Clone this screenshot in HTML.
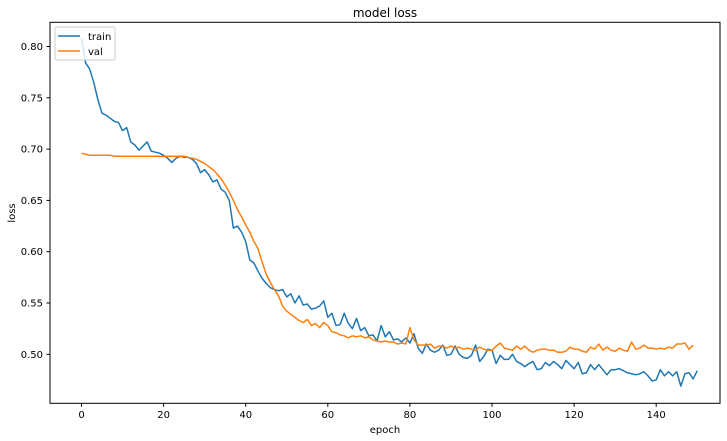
<!DOCTYPE html>
<html><head><meta charset="utf-8"><style>
body{margin:0;background:#fff;}
svg{display:block;font-family:"DejaVu Sans","Liberation Sans",sans-serif;}
</style></head><body>
<svg id="chart" width="727" height="441">
<text x="385" y="17" font-size="12" text-anchor="middle" fill="#000">model loss</text>
<text x="385" y="433" font-size="10" text-anchor="middle" fill="#000">epoch</text>
<text x="15" y="213" font-size="10" text-anchor="middle" fill="#000" transform="rotate(-90 15 213)">loss</text>
<g id="ticks"></g>
<g id="series"></g>
<rect x="50" y="22.3" width="670" height="381" fill="none" stroke="#000" stroke-width="1"/>
<g>
<rect x="55" y="27" width="60" height="33" rx="2" fill="#fff" fill-opacity="0.8" stroke="#ccc"/>
<line x1="58" y1="36" x2="80" y2="36" stroke="#1f77b4" stroke-width="1.5"/>
<text x="88" y="40" font-size="10">train</text>
<line x1="58" y1="51" x2="80" y2="51" stroke="#ff7f0e" stroke-width="1.5"/>
<text x="88" y="55" font-size="10">val</text>
</g>
</svg>
<script>
const trainLoss=[0.808,0.784,0.778,0.765,0.748,0.735,0.733,0.730,0.727,0.726,0.718,0.721,0.707,0.704,0.699,0.703,0.707,0.698,0.697,0.696,0.694,0.691,0.687,0.691,0.693,0.692,0.692,0.690,0.686,0.677,0.680,0.675,0.668,0.670,0.661,0.658,0.650,0.623,0.625,0.619,0.610,0.592,0.589,0.581,0.574,0.569,0.565,0.563,0.562,0.563,0.556,0.559,0.550,0.557,0.548,0.549,0.544,0.545,0.547,0.552,0.536,0.540,0.528,0.529,0.540,0.530,0.525,0.535,0.523,0.526,0.518,0.519,0.513,0.528,0.517,0.522,0.514,0.515,0.512,0.516,0.511,0.520,0.506,0.501,0.510,0.504,0.502,0.504,0.509,0.499,0.500,0.508,0.500,0.497,0.496,0.499,0.509,0.493,0.498,0.505,0.504,0.491,0.499,0.495,0.495,0.500,0.493,0.491,0.488,0.491,0.493,0.485,0.486,0.492,0.489,0.493,0.490,0.486,0.494,0.490,0.486,0.492,0.481,0.482,0.490,0.485,0.490,0.485,0.480,0.485,0.485,0.486,0.484,0.482,0.481,0.480,0.481,0.483,0.479,0.474,0.475,0.485,0.479,0.483,0.479,0.483,0.469,0.481,0.482,0.476,0.484];
const valLoss=[0.696,0.695,0.694,0.694,0.694,0.694,0.694,0.694,0.693,0.693,0.693,0.693,0.693,0.693,0.693,0.693,0.693,0.693,0.693,0.693,0.693,0.693,0.693,0.693,0.693,0.693,0.692,0.691,0.690,0.688,0.686,0.683,0.680,0.676,0.671,0.665,0.658,0.650,0.641,0.634,0.626,0.619,0.610,0.603,0.590,0.578,0.570,0.563,0.557,0.547,0.542,0.539,0.536,0.533,0.531,0.534,0.528,0.530,0.526,0.531,0.528,0.522,0.521,0.519,0.518,0.516,0.518,0.517,0.518,0.516,0.517,0.514,0.513,0.512,0.513,0.512,0.512,0.510,0.511,0.510,0.526,0.514,0.509,0.509,0.509,0.510,0.506,0.508,0.508,0.506,0.508,0.506,0.507,0.505,0.506,0.505,0.504,0.507,0.505,0.504,0.504,0.508,0.511,0.506,0.505,0.504,0.508,0.505,0.508,0.504,0.502,0.504,0.505,0.505,0.504,0.504,0.502,0.502,0.503,0.507,0.505,0.505,0.503,0.502,0.507,0.505,0.510,0.504,0.507,0.504,0.503,0.506,0.504,0.503,0.512,0.505,0.506,0.509,0.506,0.506,0.505,0.506,0.505,0.507,0.506,0.510,0.510,0.511,0.505,0.509];
const xTicks=[0,20,40,60,80,100,120,140];
const yTicks=[0.50,0.55,0.60,0.65,0.70,0.75,0.80];
const NS='http://www.w3.org/2000/svg';
function xs(v){return 81.5+v*4.105;}
function ys(v){return 354.3-(v-0.5)*1026;}
const tg=document.getElementById('ticks');
xTicks.forEach(t=>{
  const l=document.createElementNS(NS,'line');
  l.setAttribute('x1',xs(t));l.setAttribute('x2',xs(t));l.setAttribute('y1',403.3);l.setAttribute('y2',406.8);l.setAttribute('stroke','#000');
  
  
  tg.appendChild(l);
  const tx=document.createElementNS(NS,'text');
  tx.setAttribute('x',xs(t));tx.setAttribute('y',418);tx.setAttribute('font-size','10');tx.setAttribute('text-anchor','middle');
  tx.textContent=t;
  
  
  tg.appendChild(tx);
});
yTicks.forEach(t=>{
  const l=document.createElementNS(NS,'line');
  l.setAttribute('x1',46.5);l.setAttribute('x2',50);l.setAttribute('y1',ys(t));l.setAttribute('y2',ys(t));l.setAttribute('stroke','#000');
  
  
  tg.appendChild(l);
  const tx=document.createElementNS(NS,'text');
  tx.setAttribute('x',43);tx.setAttribute('y',ys(t)+3.5);tx.setAttribute('font-size','10');tx.setAttribute('text-anchor','end');
  tx.textContent=t.toFixed(2);
  
  
  tg.appendChild(tx);
});
const sg=document.getElementById('series');
function drawLine(arr,color,name){
  const p=document.createElementNS(NS,'polyline');
  p.setAttribute('points',arr.map((v,i)=>xs(i).toFixed(2)+','+ys(v).toFixed(2)).join(' '));
  p.setAttribute('fill','none');p.setAttribute('stroke',color);p.setAttribute('stroke-width','1.5');p.setAttribute('stroke-linejoin','round');
  
  
  sg.appendChild(p);
}
drawLine(trainLoss,'#1f77b4','train-line');
drawLine(valLoss,'#ff7f0e','val-line');
</script>
</body></html>
